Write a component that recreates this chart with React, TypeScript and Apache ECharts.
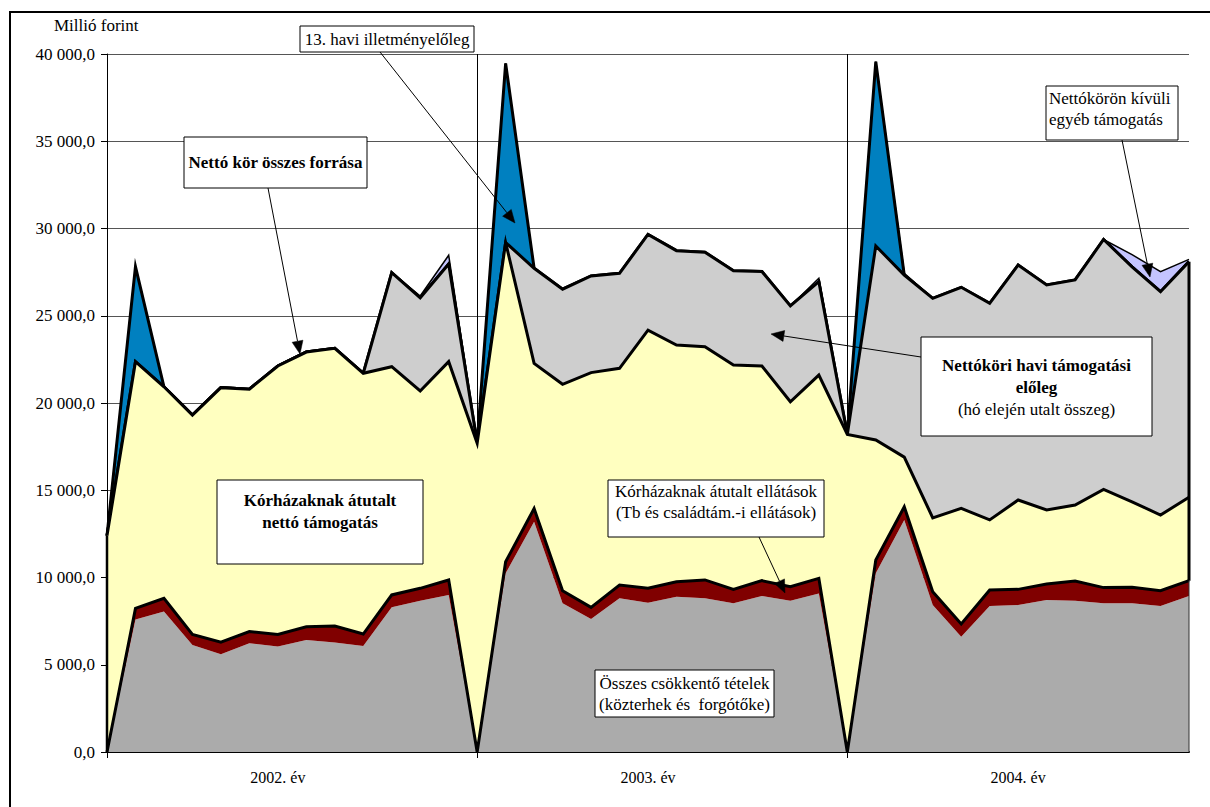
import React, { useEffect, useRef } from 'react';
import * as echarts from 'echarts';

// ---------- DATA ----------
const years = ['2002. év', '2003. év', '2004. év'];
const pointsPerYear = 13;
const categories = years.flatMap((y) =>
  Array.from({ length: pointsPerYear }, (_, k) => `${y} ${k + 1}`)
);

const yMin = 0;
const yMax = 40000;
const yInterval = 5000;

// Összes csökkentő tételek (közterhek és forgótőke)
const csokkentoTetelek = [
  0, 7600, 8050, 6130, 5600, 6230, 6040, 6420, 6280, 6070, 8290, 8670, 9000,
  0, 10240, 13200, 8520, 7620, 8810, 8560, 8900, 8810, 8520, 8940, 8670, 9090,
  0, 10240, 13300, 8420, 6610, 8370, 8420, 8710, 8670, 8520, 8520, 8370, 8940,
];
// Kórházaknak átutalt ellátások
const atutaltEllatasok = [
  0, 630, 760, 610, 690, 670, 700, 760, 940, 690, 710, 710, 860,
  0, 660, 750, 720, 670, 760, 820, 860, 1050, 800, 880, 800, 860,
  0, 760, 750, 770, 730, 910, 900, 920, 1130, 900, 920, 870, 880,
];
// Kórházaknak átutalt nettó támogatás
const nettoTamogatas = [
  12400, 14140, 12120, 12570, 14590, 13890, 15380, 15740, 15910, 14940, 13080, 11310, 12510,
  17700, 18300, 8320, 11830, 13450, 12420, 14800, 13560, 13370, 12860, 12300, 10600, 11650,
  18200, 6880, 2850, 4230, 6620, 4020, 5120, 4240, 4350, 5630, 4900, 4340, 4780,
];
// Nettóköri havi támogatási előleg
const haviEloleg = [
  0, 0, 0, 0, 0, 0, 0, 0, 0, 0, 5390, 5340, 5600,
  0, 0, 5450, 5450, 5540, 5440, 5480, 5410, 5410, 5400, 5410, 5490, 5350,
  0, 11120, 10430, 12580, 12670, 12410, 13470, 12890, 12900, 14320, 13460, 12800, 13500,
];
// 13. havi illetményelőleg
const illetmenyeloleg = [
  0, 5440, 0, 0, 0, 0, 0, 0, 0, 0, 0, 0, 0,
  0, 10260, 0, 0, 0, 0, 0, 0, 0, 0, 0, 0, 0,
  0, 10560, 0, 0, 0, 0, 0, 0, 0, 0, 0, 0, 0,
];
// Nettókörön kívüli egyéb támogatás
const egyebTamogatas = [
  0, 0, 0, 0, 0, 0, 0, 0, 0, 0, 0, 100, 500,
  0, 0, 0, 0, 0, 0, 0, 0, 0, 0, 0, 0, 200,
  0, 0, 100, 0, 0, 0, 0, 0, 0, 0, 700, 1150, 130,
];

const seriesDefs = [
  { name: 'Összes csökkentő tételek', data: csokkentoTetelek, color: '#ababab', line: 0, z: 2 },
  { name: 'Kórházaknak átutalt ellátások', data: atutaltEllatasok, color: '#800000', line: 3, z: 9 },
  { name: 'Kórházaknak átutalt nettó támogatás', data: nettoTamogatas, color: '#ffffc0', line: 3, z: 8 },
  { name: 'Nettóköri havi támogatási előleg', data: haviEloleg, color: '#cecece', line: 3, z: 7 },
  { name: '13. havi illetményelőleg', data: illetmenyeloleg, color: '#0080c0', line: 3, z: 6 },
  { name: 'Nettókörön kívüli egyéb támogatás', data: egyebTamogatas, color: '#c4c4ff', line: 1.5, z: 5 },
];

const FONT = 'Liberation Serif';
const FS = 17;

function arrowGraphics(x1: number, y1: number, x2: number, y2: number) {
  const dx = x2 - x1;
  const dy = y2 - y1;
  const L = Math.sqrt(dx * dx + dy * dy);
  const ux = dx / L;
  const uy = dy / L;
  const len = 13;
  const half = 5.5;
  const bx = x2 - ux * len;
  const by = y2 - uy * len;
  return [
    {
      type: 'line',
      z: 100,
      shape: { x1, y1, x2: bx, y2: by },
      style: { stroke: '#000', lineWidth: 1 },
    },
    {
      type: 'polygon',
      z: 100,
      shape: {
        points: [
          [x2, y2],
          [bx - uy * half, by + ux * half],
          [bx + uy * half, by - ux * half],
        ],
      },
      style: { fill: '#000', stroke: '#000', lineWidth: 0.5 },
    },
  ];
}

function box(x: number, y: number, w: number, h: number) {
  return {
    type: 'rect',
    z: 100,
    shape: { x, y, width: w, height: h },
    style: { fill: '#fff', stroke: '#000', lineWidth: 1 },
  };
}

function label(x: number, y: number, text: string, bold = false, align = 'center') {
  return {
    type: 'text',
    z: 101,
    x,
    y,
    style: {
      text,
      fill: '#000',
      fontFamily: FONT,
      fontSize: FS,
      fontWeight: bold ? 'bold' : 'normal',
      textAlign: align,
      textVerticalAlign: 'middle',
    },
  };
}

export default function App() {
  const ref = useRef<HTMLDivElement>(null);

  useEffect(() => {
    const chart = echarts.init(ref.current!, null, { renderer: 'svg' });

    const last = categories.length - 1;
    const redTopLast = csokkentoTetelek[last] + atutaltEllatasok[last];
    const totalLast =
      redTopLast + nettoTamogatas[last] + haviEloleg[last] + illetmenyeloleg[last] + egyebTamogatas[last];

    const series: any[] = seriesDefs.map((s) => ({
      type: 'line',
      name: s.name,
      stack: 'total',
      data: s.data,
      symbol: 'none',
      silent: true,
      z: s.z,
      areaStyle: { color: s.color, opacity: 1 },
      itemStyle: { color: s.color },
      lineStyle: s.line
        ? { color: '#000', width: s.line, join: 'miter', miterLimit: 6 }
        : { width: 0, color: s.color },
      emphasis: { disabled: true },
    }));

    // Right border of the stacked areas
    series.push({
      type: 'line',
      name: 'jobb szél',
      data: [
        [last, 0],
        [last, redTopLast],
      ],
      symbol: 'none',
      silent: true,
      z: 10,
      lineStyle: { color: '#333', width: 1 },
    });
    series.push({
      type: 'line',
      name: 'jobb szél 2',
      data: [
        [last, redTopLast],
        [last, totalLast - egyebTamogatas[last]],
      ],
      symbol: 'none',
      silent: true,
      z: 10,
      lineStyle: { color: '#000', width: 3 },
    });
    // Left border
    series.push({
      type: 'line',
      name: 'bal szél',
      data: [
        [0, 0],
        [0, csokkentoTetelek[0] + atutaltEllatasok[0] + nettoTamogatas[0]],
      ],
      symbol: 'none',
      silent: true,
      z: 10,
      lineStyle: { color: '#000', width: 2.5 },
    });

    const graphic: any[] = [
      {
        type: 'rect',
        z: 0,
        silent: true,
        shape: { x: 10, y: 12, width: 1215, height: 810 },
        style: { fill: 'none', stroke: '#000', lineWidth: 2 },
      },
      {
        type: 'text',
        z: 101,
        x: 54,
        y: 25,
        style: {
          text: 'Millió forint',
          fill: '#000',
          fontFamily: FONT,
          fontSize: FS,
          textVerticalAlign: 'middle',
        },
      },
      // 13. havi illetményelőleg
      ...arrowGraphics(380, 52, 515, 223),
      box(300, 26, 174, 26),
      label(387, 39.5, '13. havi illetményelőleg'),
      // Nettó kör összes forrása
      ...arrowGraphics(268, 188, 300, 354),
      box(184, 137, 183, 51),
      label(275.5, 162.5, 'Nettó kör összes forrása', true),
      // Kórházaknak átutalt nettó támogatás
      box(217, 480, 206, 84),
      label(320, 500.5, 'Kórházaknak átutalt', true),
      label(320, 522, 'nettó támogatás', true),
      // Kórházaknak átutalt ellátások
      ...arrowGraphics(759, 537, 785, 593),
      box(608, 480, 216, 57),
      label(716, 491.5, 'Kórházaknak átutalt ellátások'),
      label(716, 512.5, '(Tb és családtám.-i ellátások)'),
      // Összes csökkentő tételek
      box(595, 670, 179, 47),
      label(684.5, 683.5, 'Összes csökkentő tételek'),
      label(684.5, 704, '(közterhek és  forgótőke)'),
      // Nettóköri havi támogatási előleg
      ...arrowGraphics(921, 357, 771, 334),
      box(921, 337, 231, 99),
      label(1036.5, 365, 'Nettóköri havi támogatási', true),
      label(1036.5, 387, 'előleg', true),
      label(1036.5, 409, '(hó elején utalt összeg)'),
      // Nettókörön kívüli egyéb támogatás
      ...arrowGraphics(1122, 140, 1150, 277),
      box(1046, 86, 132, 54),
      label(1049, 98.5, 'Nettókörön kívüli', false, 'left'),
      label(1049, 119.5, 'egyéb támogatás', false, 'left'),
    ];

    const option: any = {
      animation: false,
      backgroundColor: '#fff',
      textStyle: { fontFamily: FONT },
      grid: { left: 107, top: 54, right: 21, bottom: 55, containLabel: false },
      xAxis: {
        type: 'category',
        data: categories,
        boundaryGap: false,
        axisLine: { show: true, lineStyle: { color: '#000', width: 2 } },
        axisTick: {
          show: true,
          length: 6,
          interval: (i: number) => i % pointsPerYear === 0,
          lineStyle: { color: '#000', width: 1 },
        },
        axisLabel: {
          interval: (i: number) => i % pointsPerYear === Math.floor(pointsPerYear / 2),
          formatter: (_v: string, i: number) => years[Math.floor(i / pointsPerYear)] ?? '',
          color: '#000',
          fontFamily: FONT,
          fontSize: FS - 1,
          margin: 17,
        },
        splitLine: {
          show: true,
          interval: (i: number) => i > 0 && i % pointsPerYear === 0,
          lineStyle: { color: '#000', width: 1 },
        },
      },
      yAxis: {
        type: 'value',
        min: yMin,
        max: yMax,
        interval: yInterval,
        axisLine: { show: true, lineStyle: { color: '#000', width: 1 } },
        axisTick: { show: true, length: 6, lineStyle: { color: '#000' } },
        axisLabel: {
          color: '#000',
          fontFamily: FONT,
          fontSize: FS,
          margin: 12,
          formatter: (v: number) =>
            Math.round(v).toString().replace(/\B(?=(\d{3})+(?!\d))/g, ' ') + ',0',
        },
        splitLine: { show: true, lineStyle: { color: '#555', width: 1 } },
      },
      series,
      graphic,
    };

    chart.setOption(option);
    return () => chart.dispose();
  }, []);

  return (
    <div
      ref={ref}
      style={{ position: 'fixed', left: 0, top: 0, width: 1210, height: 807, background: '#fff' }}
    />
  );
}
